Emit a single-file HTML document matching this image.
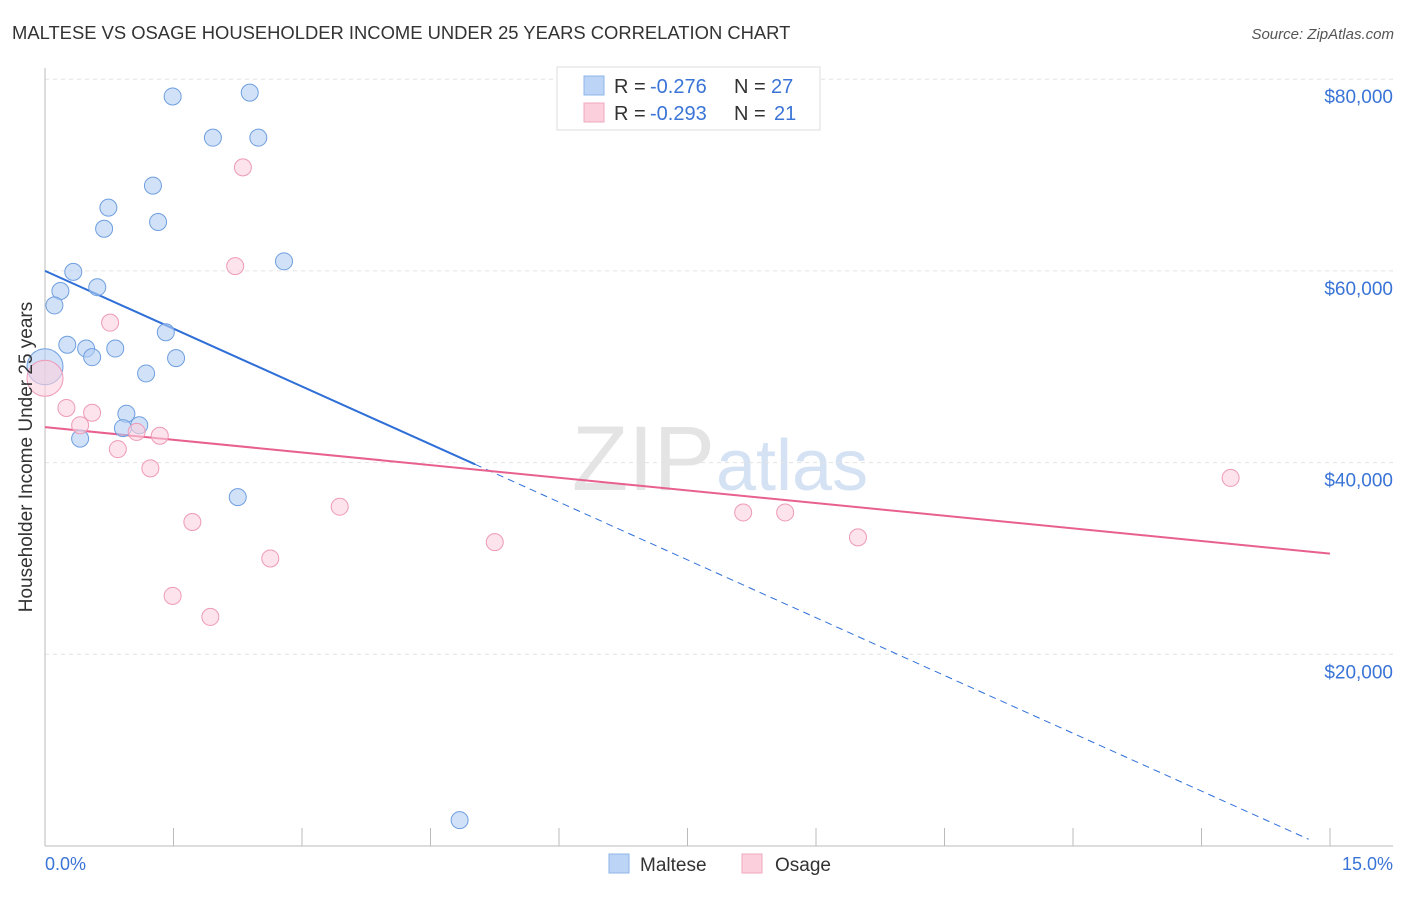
<!DOCTYPE html>
<html><head><meta charset="utf-8"><style>
body{margin:0;background:#fff;font-family:"Liberation Sans",sans-serif;}
svg text{font-family:"Liberation Sans",sans-serif;}
</style></head><body>
<svg id="chart" width="1406" height="892">
<text x="12" y="39" font-size="18.4" fill="#333">MALTESE VS OSAGE HOUSEHOLDER INCOME UNDER 25 YEARS CORRELATION CHART</text>
<text x="1394" y="39" font-size="15" fill="#555" font-style="italic" text-anchor="end">Source: ZipAtlas.com</text>
<text x="715" y="490" font-size="92" fill="#e4e4e4" text-anchor="end" font-family="Liberation Serif">ZIP</text>
<text x="716" y="490" font-size="72" fill="#d4e2f4">atlas</text>
<g id="grid"></g><g id="axes"></g><g id="lines"></g><g id="pts"></g>
<text x="27" y="457" font-size="19" fill="#333" text-anchor="middle" dominant-baseline="middle" transform="rotate(-90 27 457)">Householder Income Under 25 years</text>
<text x="45" y="870" font-size="18" fill="#3a74d6">0.0%</text>
<text x="1393" y="870" font-size="18" fill="#3a74d6" text-anchor="end">15.0%</text>
<g>
<rect x="557" y="67" width="263" height="63" fill="#fff" stroke="#ddd"/>
<rect x="584" y="76" width="20" height="19" fill="#bcd4f6" stroke="#8fb4ea"/>
<rect x="584" y="103" width="20" height="19" fill="#fbcfdc" stroke="#f0a8be"/>
<text x="614" y="93" font-size="20" fill="#333">R =</text>
<text x="650" y="93" font-size="20" fill="#3a74d6">-0.276</text>
<text x="734" y="93" font-size="20" fill="#333">N =</text>
<text x="771" y="93" font-size="20" fill="#3a74d6">27</text>
<text x="614" y="120" font-size="20" fill="#333">R =</text>
<text x="650" y="120" font-size="20" fill="#3a74d6">-0.293</text>
<text x="734" y="120" font-size="20" fill="#333">N =</text>
<text x="774" y="120" font-size="20" fill="#3a74d6">21</text>
</g>
<g>
<rect x="609" y="854" width="20" height="19" fill="#bcd4f6" stroke="#8fb4ea"/>
<text x="640" y="871" font-size="19" fill="#333">Maltese</text>
<rect x="742" y="854" width="20" height="19" fill="#fbcfdc" stroke="#f0a8be"/>
<text x="775" y="871" font-size="19" fill="#333">Osage</text>
</g>
</svg>
<script>
const yTicks=[20000,40000,60000,80000];
const yTickLabels=["$20,000","$40,000","$60,000","$80,000"];
const xTicks=[0,1.5,3,4.5,6,7.5,9,10.5,12,13.5,15];
const malteseX=[1.49,2.39,1.96,2.49,1.26,0.74,0.69,1.32,2.79,0.33,0.18,0.61,0.11,1.41,0.26,0.48,0.82,0.55,1.53,1.18,0,0.95,0.91,1.10,0.41,2.25,4.84];
const malteseY=[78.2,78.6,73.9,73.9,68.9,66.6,64.4,65.1,61.0,59.9,57.9,58.3,56.4,53.6,52.3,51.9,51.9,51.0,50.9,49.3,50.0,45.1,43.6,43.9,42.5,36.4,2.7];
const osageX=[2.31,2.22,0.76,0,0.25,0.55,0.41,1.34,1.07,0.85,1.23,1.72,3.44,2.63,1.49,1.93,5.25,8.15,8.64,9.49,13.84];
const osageY=[70.8,60.5,54.6,48.8,45.7,45.2,43.9,42.8,43.2,41.4,39.4,33.8,35.4,30.0,26.1,23.9,31.7,34.8,34.8,32.2,38.4];
const malteseTrend=[60.0,-4.02];
const osageTrend=[43.7,-0.88];
const NS="http://www.w3.org/2000/svg";
const X=v=>45+v/15*1285, Y=v=>846-v/20*191.7;
function mk(t,a,p){const e=document.createElementNS(NS,t);for(const k in a)e.setAttribute(k,a[k]);p.appendChild(e);return e;}
const grid=document.getElementById('grid'),axes=document.getElementById('axes'),lines=document.getElementById('lines'),pts=document.getElementById('pts');
yTicks.forEach((t,i)=>{
 const g=mk('line',{x1:45,x2:1393,y1:Y(t/1000),y2:Y(t/1000),stroke:'#e3e3e3','stroke-dasharray':'4,4'},grid);
 
 
 const tx=mk('text',{x:1393,y:Y(t/1000)+24,'font-size':19,fill:'#3a74d6','text-anchor':'end'},grid);
 tx.textContent=yTickLabels[i];
 
 
});
const ax=mk('line',{x1:45,x2:45,y1:68,y2:846,stroke:'#bbb'},axes);


const bx=mk('line',{x1:45,x2:1393,y1:846,y2:846,stroke:'#bbb'},axes);


xTicks.forEach(t=>{
 const l=mk('line',{x1:X(t),x2:X(t),y1:828,y2:846,stroke:'#bbb'},axes);
 
 
});
const bEnd=5.02, bStop=14.75;
let l1=mk('line',{x1:X(0),y1:Y(malteseTrend[0]),x2:X(bEnd),y2:Y(malteseTrend[0]+malteseTrend[1]*bEnd),stroke:'#2f6fd8','stroke-width':2},lines);


let l2=mk('line',{x1:X(bEnd),y1:Y(malteseTrend[0]+malteseTrend[1]*bEnd),x2:X(bStop),y2:Y(malteseTrend[0]+malteseTrend[1]*bStop),stroke:'#2f6fd8','stroke-width':1,'stroke-dasharray':'7,5'},lines);


let l3=mk('line',{x1:X(0),y1:Y(osageTrend[0]),x2:X(15),y2:Y(osageTrend[0]+osageTrend[1]*15),stroke:'#e8608f','stroke-width':2},lines);


function dots(xs,ys,fill,stroke,name){
 xs.forEach((x,i)=>{
  const big=x===0;
  const c=mk('circle',{cx:X(x),cy:Y(ys[i]),r:big?18:8.5,fill:fill,stroke:stroke,'stroke-width':1,'fill-opacity':0.6},pts);
  
  
 });
}
dots(malteseX,malteseY,'#b3cdf3','#6f9fe0','maltese-point');
dots(osageX,osageY,'#fbd0dd','#ee9ab6','osage-point');
</script>
</body></html>
